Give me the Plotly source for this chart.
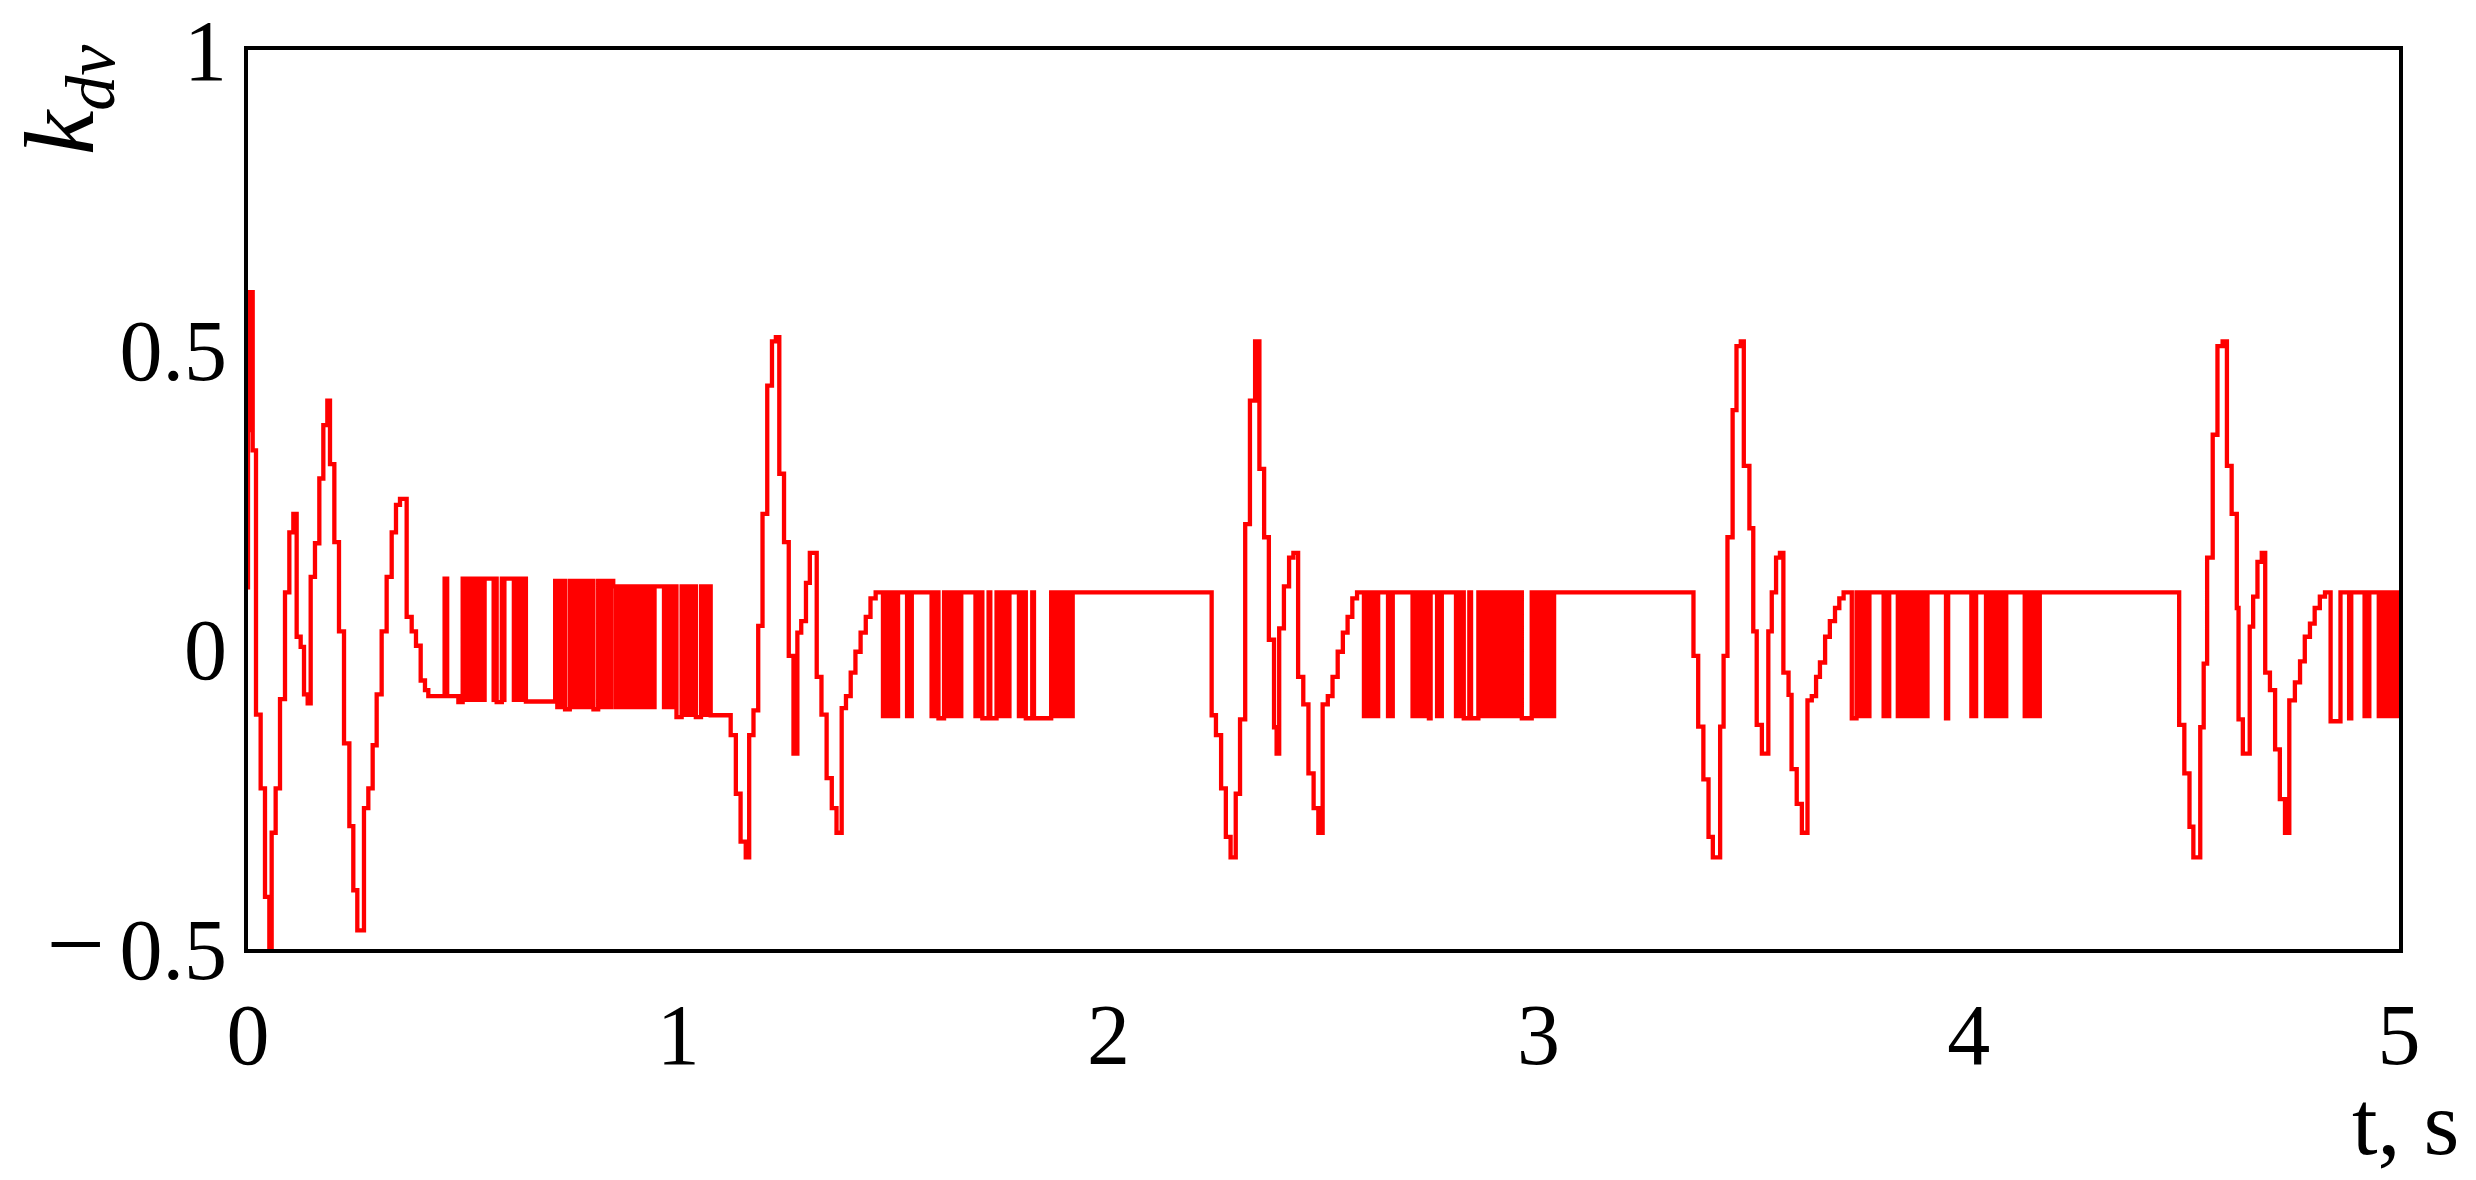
import numpy as np
import plotly.graph_objects as go

# step changes of k_dv (value holds from t until the next t)
t_c1 = [0.0, 0.0, 0.0047, 0.0109, 0.0186, 0.0294, 0.0395, 0.0496, 0.0550, 0.0643,
        0.0744, 0.0860, 0.0961, 0.1054, 0.1131, 0.1224, 0.1302, 0.1387, 0.1457, 0.1557,
        0.1658, 0.1751, 0.1844, 0.1906, 0.2007, 0.2115, 0.2232, 0.2356, 0.2448, 0.2541,
        0.2696, 0.2797, 0.2898, 0.2991, 0.3107, 0.3223, 0.3340, 0.3440, 0.3533, 0.3688,
        0.3805, 0.3905, 0.4014, 0.4114, 0.4191,
        0.457, 0.463, 0.489, 0.499, 0.578, 0.590, 0.646, 0.714, 0.737, 0.748,
        0.803, 0.814, 0.849, 0.996, 1.008, 1.041, 1.053, 1.0755]
k_c1 = [0.10, 0.366, 0.596, 0.332, -0.109, -0.232, -0.413, -0.50, -0.306, -0.232,
        -0.083, 0.095, 0.195, 0.226, 0.021, 0.004, -0.075, -0.090, 0.121, 0.177,
        0.285, 0.374, 0.415, 0.309, 0.179, 0.030, -0.157, -0.295, -0.402, -0.469,
        -0.265, -0.232, -0.160, -0.075, 0.030, 0.121, 0.195, 0.241, 0.251, 0.054,
        0.030, 0.006, -0.052, -0.068, -0.078,
        0.118, -0.078, -0.088, 0.118, -0.088, 0.118, -0.087, 0.114, -0.100, 0.114,
        -0.100, 0.114, 0.105, -0.113, 0.105, -0.113, 0.105, -0.110]

t_c2 = [1.122, 1.134, 1.145, 1.157, 1.165, 1.175, 1.186, 1.196, 1.207, 1.218,
        1.227, 1.235, 1.246, 1.257, 1.268, 1.277, 1.286, 1.297, 1.306, 1.322,
        1.333, 1.345, 1.357, 1.368, 1.380, 1.390, 1.401, 1.412, 1.424, 1.436,
        1.447, 1.459,
        1.605, 1.618, 1.707, 1.7215, 1.7255, 1.740, 1.808, 1.823, 1.827, 1.867]
k_c2 = [-0.143, -0.241, -0.321, -0.347, -0.143, -0.102, 0.039, 0.226, 0.440, 0.514,
        0.521, 0.293, 0.179, -0.011, -0.174, 0.028, 0.047, 0.111, 0.161, -0.046,
        -0.109, -0.215, -0.265, -0.306, -0.098, -0.078, -0.039, -0.004, 0.028, 0.054,
        0.085, 0.095,
        -0.115, 0.095, -0.115, 0.095, -0.115, 0.095, -0.115, 0.095, -0.115, 0.095]

t_c3 = [2.240, 2.250, 2.262, 2.273, 2.284, 2.296, 2.306, 2.318, 2.329, 2.341,
        2.351, 2.362, 2.373, 2.385, 2.391, 2.397, 2.408, 2.420, 2.430, 2.441,
        2.453, 2.465, 2.477, 2.488, 2.498, 2.510, 2.521, 2.533, 2.545, 2.556,
        2.567, 2.578,
        2.745, 2.749, 2.826, 2.839, 2.843, 2.860, 2.961, 2.984]
k_c3 = [-0.110, -0.143, -0.232, -0.313, -0.347, -0.241, -0.117, 0.209, 0.415, 0.514,
        0.301, 0.187, 0.016, -0.130, -0.174, 0.035, 0.105, 0.153, 0.161, -0.046,
        -0.092, -0.207, -0.265, -0.306, -0.092, -0.078, -0.046, -0.004, 0.028, 0.054,
        0.085, 0.095,
        -0.115, 0.095, -0.115, 0.095, -0.115, 0.095, -0.115, 0.095]

t_c4 = [3.360, 3.371, 3.383, 3.395, 3.405, 3.422, 3.430, 3.439, 3.451, 3.460,
        3.470, 3.477, 3.490, 3.499, 3.507, 3.519, 3.534, 3.542, 3.552, 3.561,
        3.569, 3.581, 3.588, 3.600, 3.612, 3.625, 3.635, 3.645, 3.654, 3.666,
        3.677, 3.689, 3.699, 3.709,
        3.728, 3.739, 3.947, 3.952]
k_c4 = [-0.011, -0.129, -0.217, -0.313, -0.347, -0.129, -0.011, 0.187, 0.399, 0.506,
        0.514, 0.306, 0.202, 0.030, -0.126, -0.174, 0.030, 0.095, 0.153, 0.161,
        -0.039, -0.076, -0.200, -0.258, -0.306, -0.085, -0.078, -0.046, -0.022, 0.021,
        0.047, 0.069, 0.085, 0.095,
        -0.115, 0.095, -0.115, 0.095]

t_c5 = [4.489, 4.501, 4.513, 4.522, 4.538, 4.546, 4.554, 4.567, 4.578, 4.590,
        4.600, 4.611, 4.623, 4.627, 4.637, 4.653, 4.661, 4.671, 4.681, 4.689,
        4.700, 4.712, 4.723, 4.735, 4.745, 4.758, 4.770, 4.781, 4.793, 4.804,
        4.816, 4.828,
        4.841, 4.864, 4.884, 4.889, 5.000]
k_c5 = [-0.126, -0.207, -0.296, -0.347, -0.130, -0.024, 0.153, 0.358, 0.506, 0.514,
        0.306, 0.226, 0.069, -0.117, -0.174, 0.038, 0.088, 0.146, 0.161, -0.039,
        -0.068, -0.167, -0.250, -0.306, -0.085, -0.055, -0.020, 0.021, 0.043, 0.069,
        0.088, 0.095,
        -0.120, 0.095, -0.115, 0.095, 0.095]

# intervals of fast chattering (switching too dense to resolve)
band_start = [0.499, 0.566, 0.590, 0.613, 0.714, 0.748, 0.814, 0.849, 0.962, 1.008, 1.053,
              1.471, 1.527, 1.584, 1.618, 1.686, 1.740, 1.787, 1.867,
              2.589, 2.645, 2.702, 2.759, 2.803, 2.860, 2.984,
              3.739, 3.797, 3.830, 4.001, 4.035, 4.125,
              4.915, 4.948]
band_end = [0.555, 0.578, 0.601, 0.646, 0.737, 0.803, 0.849, 0.950, 0.996, 1.041, 1.0755,
            1.516, 1.548, 1.605, 1.663, 1.707, 1.775, 1.808, 1.922,
            2.632, 2.666, 2.744, 2.780, 2.826, 2.961, 3.041,
            3.774, 3.820, 3.909, 4.022, 4.092, 4.170,
            4.936, 5.000]
band_lo = [-0.088, -0.088, -0.088, -0.088, -0.100, -0.100, -0.100, -0.100, -0.100, -0.113, -0.113,
           -0.115, -0.115, -0.115, -0.115, -0.115, -0.115, -0.115, -0.115,
           -0.115, -0.115, -0.115, -0.115, -0.115, -0.115, -0.115,
           -0.115, -0.115, -0.115, -0.115, -0.115, -0.115,
           -0.115, -0.115]
band_hi = [0.118, 0.118, 0.118, 0.118, 0.114, 0.114, 0.114, 0.105, 0.105, 0.105, 0.105,
           0.095, 0.095, 0.095, 0.095, 0.095, 0.095, 0.095, 0.095,
           0.095, 0.095, 0.095, 0.095, 0.095, 0.095, 0.095,
           0.095, 0.095, 0.095, 0.095, 0.095, 0.095,
           0.095, 0.095]

y_tickvals = [-0.5, 0, 0.5, 1]
y_ticktext = ["<span style='font-size:104px'>\u2212</span>\u20060.5", "0", "0.5", "1"]
x_tickvals = [0, 1, 2, 3, 4, 5]

RED = "#ff0000"
FONT = "Liberation Serif, Times New Roman, serif"

t_all = t_c1 + t_c2 + t_c3 + t_c4 + t_c5
k_all = k_c1 + k_c2 + k_c3 + k_c4 + k_c5

b0 = np.array(band_start)
b1 = np.array(band_end)
lo = np.array(band_lo)
hi = np.array(band_hi)

fig = go.Figure()
fig.add_trace(go.Bar(x=(b0 + b1) / 2, width=b1 - b0, base=lo, y=hi - lo,
                     marker=dict(color=RED, line=dict(width=0)), hoverinfo="skip"))
fig.add_trace(go.Scatter(x=t_all, y=k_all, mode="lines", line_shape="hv",
                         line=dict(color=RED, width=4.3), hoverinfo="skip"))

axis_style = dict(showline=True, mirror=True, linecolor="black", linewidth=3.5,
                  showgrid=False, zeroline=False, ticks="", ticklabeloverflow="allow",
                  automargin=False,
                  tickfont=dict(family=FONT, size=86, color="black"))

# page body adds an 8px offset, so the figure is 8px smaller than the window
fig.update_layout(
    width=2468, height=1172,
    margin=dict(l=240, r=77, t=42, b=231),
    paper_bgcolor="white", plot_bgcolor="white",
    showlegend=False, barmode="overlay",
    xaxis=dict(range=[0, 5], tickvals=x_tickvals, ticklabelstandoff=8, **axis_style),
    yaxis=dict(range=[-0.5, 1], tickvals=y_tickvals, ticktext=y_ticktext, **axis_style),
)

fig.add_annotation(text="<i>k</i><sub><i>dv</i></sub>", textangle=-90,
                   xref="paper", yref="paper", x=-0.0843, y=0.945,
                   xanchor="center", yanchor="middle", showarrow=False,
                   font=dict(family=FONT, size=100, color="black"))
fig.add_annotation(text="t, s", xref="paper", yref="paper", x=1.0028, y=-0.193,
                   xanchor="center", yanchor="middle", showarrow=False,
                   font=dict(family=FONT, size=92, color="black"))

fig.write_html("out.html")
